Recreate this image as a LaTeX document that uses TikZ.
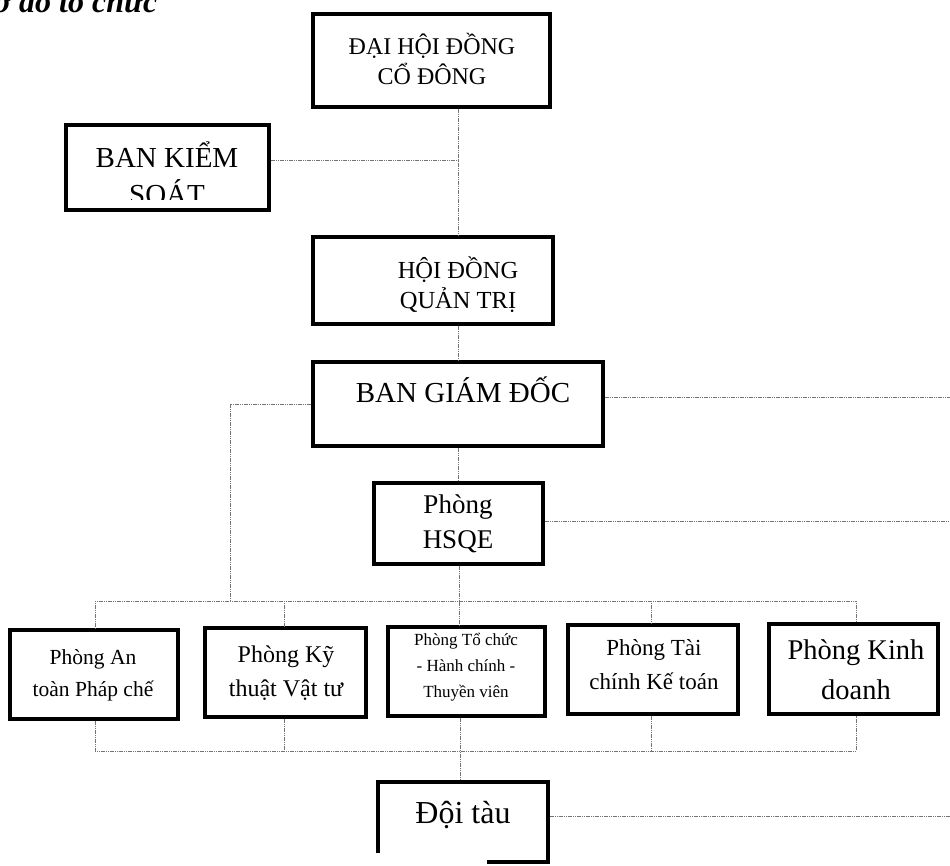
\documentclass[tikz,border=0pt]{standalone}
\usepackage{fontspec}
\setmainfont{Liberation Serif}
\usetikzlibrary{calc}
\begin{document}
\begin{tikzpicture}[x=1pt,y=-1pt,
  box/.style={draw=black, line width=3.2pt, rectangle, inner sep=0pt, fill=white},
  conn/.style={draw=black!55, line width=0.9pt, dash pattern=on 1.2pt off 0.6pt},
  txt/.style={inner sep=0pt, align=center, text=black}]
\useasboundingbox (0,0) rectangle (950,865);
\clip (0,0) rectangle (950,865);
\fill[white] (0,0) rectangle (950,865);

% partly cut heading
\node[txt, anchor=base west, font=\fontsize{32}{38}\selectfont\bfseries\itshape] (head) at (-24,12) {Sơ đồ tổ chức};

% boxes
\node[box, minimum width=237pt, minimum height=93pt] (dh) at (431.5,60.5) {};
\node[box, minimum width=203pt, minimum height=85pt] (bks) at (167.5,167.5) {};
\node[box, minimum width=240pt, minimum height=87pt] (hd) at (433,280.5) {};
\node[box, minimum width=290pt, minimum height=84pt] (bgd) at (458,404) {};
\node[box, minimum width=169pt, minimum height=81pt] (hsqe) at (458.5,523.5) {};
\node[box, minimum width=168pt, minimum height=89pt] (antoan) at (94,674.5) {};
\node[box, minimum width=161pt, minimum height=89pt] (kythuat) at (285.5,672.5) {};
\node[box, minimum width=157pt, minimum height=89pt] (tochuc) at (466.5,671.5) {};
\node[box, minimum width=170pt, minimum height=89pt] (taichinh) at (653,669.5) {};
\node[box, minimum width=169pt, minimum height=90pt] (kinhdoanh) at (853.5,669) {};
\node[box, minimum width=170pt, minimum height=80pt] (doitau) at (463,822) {};
\fill[white] (374,853) rectangle (487,866);

% texts
\node[txt, font=\fontsize{24}{30}\selectfont] (dh-t) at (432,59) {ĐẠI HỘI ĐỒNG\\CỔ ĐÔNG};
\begin{scope}
  \clip (66,125) rectangle (269,199);
  \node[txt, anchor=base, font=\fontsize{29}{37}\selectfont] (bks-t1) at (167,167) {BAN KIỂM};
  \node[txt, anchor=base, font=\fontsize{29}{37}\selectfont] (bks-t2) at (167,204) {SOÁT};
\end{scope}
\node[txt, font=\fontsize{24.5}{30}\selectfont] (hd-t) at (458,285) {HỘI ĐỒNG\\QUẢN TRỊ};
\node[txt, anchor=base, font=\fontsize{29}{34}\selectfont] (bgd-t) at (463,402) {BAN GIÁM ĐỐC};
\node[txt, font=\fontsize{27}{35}\selectfont] (hsqe-t) at (458,524) {Phòng\\HSQE};
\node[txt, font=\fontsize{21.5}{32}\selectfont] (antoan-t) at (93,675) {Phòng An\\toàn Pháp chế};
\node[txt, font=\fontsize{24}{34}\selectfont] (kythuat-t) at (286,673) {Phòng Kỹ\\thuật Vật tư};
\node[txt, font=\fontsize{17}{26}\selectfont] (tochuc-t) at (466,667) {Phòng Tổ chức\\- Hành chính -\\Thuyền viên};
\node[txt, font=\fontsize{23}{34}\selectfont] (taichinh-t) at (654,665) {Phòng Tài\\chính Kế toán};
\node[txt, font=\fontsize{28.5}{40}\selectfont] (kinhdoanh-t) at (856,670) {Phòng Kinh\\doanh};
\node[txt, font=\fontsize{32}{38}\selectfont] (doitau-t) at (463,815) {Đội tàu};

% connector coordinates
\coordinate (sp1) at (458,160);
\coordinate (bl) at (230,404);
\coordinate (er1) at (950,397);
\coordinate (er2) at (950,521);
\coordinate (er3) at (950,816);
\coordinate (sp2) at (459,601);
\coordinate (t1) at (95,601);
\coordinate (t2) at (284,601);
\coordinate (t4) at (651,601);
\coordinate (t5) at (856,601);
\coordinate (b1) at (95,751);
\coordinate (b2) at (284,751);
\coordinate (b4) at (651,751);
\coordinate (b5) at (856,751);
\coordinate (sp3) at (460,751);

% connectors
\draw[conn] (dh.south -| sp1) -- (hd.north -| sp1);
\draw[conn] (bks.east |- sp1) -- (sp1);
\draw[conn] (hd.south -| sp1) -- (bgd.north -| sp1);
\draw[conn] (bgd.south -| sp1) -- (hsqe.north -| sp1);
\draw[conn] (bgd.west |- bl) -- (bl) -- (bl |- t1);
\draw[conn] (bgd.east |- er1) -- (er1);
\draw[conn] (hsqe.east |- er2) -- (er2);
\draw[conn] (hsqe.south -| sp2) -- (sp2) -- (tochuc.north -| sp2);
\draw[conn] (t1) -- (t5);
\draw[conn] (t1) -- (antoan.north -| t1);
\draw[conn] (t2) -- (kythuat.north -| t2);
\draw[conn] (t4) -- (taichinh.north -| t4);
\draw[conn] (t5) -- (kinhdoanh.north -| t5);
\draw[conn] (antoan.south -| b1) -- (b1) -- (b5) -- (kinhdoanh.south -| b5);
\draw[conn] (kythuat.south -| b2) -- (b2);
\draw[conn] (taichinh.south -| b4) -- (b4);
\draw[conn] (tochuc.south -| sp3) -- (doitau.north -| sp3);
\draw[conn] (doitau.east |- er3) -- (er3);
\end{tikzpicture}
\end{document}
